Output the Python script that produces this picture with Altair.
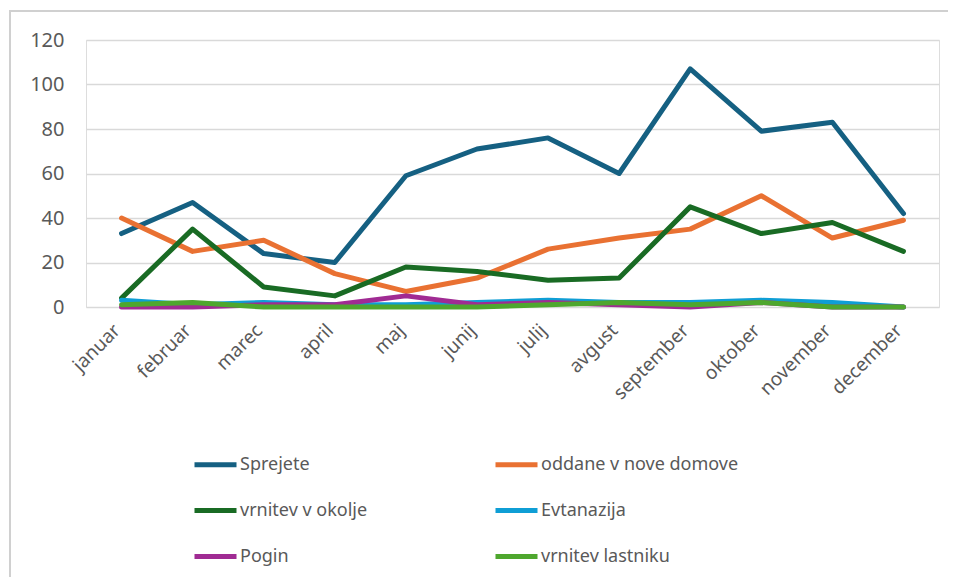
import altair as alt
import pandas as pd

months = ["januar", "februar", "marec", "april", "maj", "junij", "julij",
          "avgust", "september", "oktober", "november", "december"]
series = ["Sprejete", "oddane v nove domove", "vrnitev v okolje",
          "Evtanazija", "Pogin", "vrnitev lastniku"]
colors = ["#156082", "#E97132", "#196B24", "#0F9ED5", "#A02B93", "#4EA72E"]

sprejete = [33, 47, 24, 20, 59, 71, 76, 60, 107, 79, 83, 42]
oddane = [40, 25, 30, 15, 7, 13, 26, 31, 35, 50, 31, 39]
okolje = [4, 35, 9, 5, 18, 16, 12, 13, 45, 33, 38, 25]
evtanazija = [3, 1, 2, 1, 1, 2, 3, 2, 2, 3, 2, 0]
pogin = [0, 0, 1, 1, 5, 1, 2, 1, 0, 2, 0, 0]
lastniku = [1, 2, 0, 0, 0, 0, 1, 2, 1, 2, 0, 0]

values = [sprejete, oddane, okolje, evtanazija, pogin, lastniku]
rows = []
for si, (s, vals) in enumerate(zip(series, values)):
    for mi, (m, v) in enumerate(zip(months, vals)):
        rows.append({"series": s, "month": m, "value": v, "order": si})
df = pd.DataFrame(rows)

FONT = "Noto Sans"
GREY = "#595959"

lines = alt.Chart(df).mark_line(strokeWidth=5, strokeCap="round", strokeJoin="round").encode(
    x=alt.X("month:N", sort=months, scale=alt.Scale(paddingOuter=0.5, paddingInner=0),
            axis=alt.Axis(title=None, labelAngle=-45, labelAlign="right", labelBaseline="middle",
                          labelFontSize=19, labelColor=GREY, labelFont=FONT,
                          domain=False, ticks=False, labelPadding=20, labelOffset=-5)),
    y=alt.Y("value:Q", scale=alt.Scale(domain=[0, 120], nice=False),
            axis=alt.Axis(title=None, values=[0, 20, 40, 60, 80, 100, 120],
                          labelFontSize=20, labelColor=GREY, labelFont=FONT,
                          domain=False, ticks=False, labelPadding=22,
                          gridColor="#D9D9D9", gridWidth=1.3)),
    color=alt.Color("series:N", sort=series,
                    scale=alt.Scale(domain=series, range=colors),
                    legend=alt.Legend(title=None, orient="none", legendX=106, legendY=401,
                                      direction="horizontal", columns=2,
                                      symbolType="stroke", symbolSize=1764,
                                      symbolStrokeWidth=5, labelFontSize=18,
                                      labelColor=GREY, labelFont=FONT, labelOffset=1,
                                      labelLimit=400,
                                      columnPadding=117, rowPadding=12)),
    order=alt.Order("order:Q"),
    detail="series:N",
)

frame = alt.Chart(pd.DataFrame({"a": [0]})).mark_rect(
    fill=None, stroke="#D0D0D0", strokeWidth=2
).encode(
    x=alt.value(-76), x2=alt.value(960), y=alt.value(-29), y2=alt.value(600)
)

chart = alt.layer(frame, lines).properties(
    width=853, height=267,
    autosize=alt.AutoSizeParams(type="none"),
    padding={"left": 78, "top": 32, "right": 9, "bottom": 270},
).configure_view(stroke=None, clip=False).configure(background="white")

chart.save("out.html", embed_options={"renderer": "svg", "actions": False})
